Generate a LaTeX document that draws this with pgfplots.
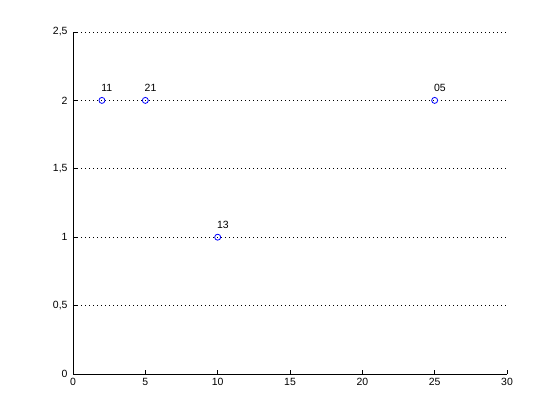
\documentclass[border=0pt]{standalone}
\usepackage{pgfplots}
\pgfplotsset{compat=1.18}
\usepackage{fontspec}
\setmainfont{Liberation Sans}
\begin{document}
\begin{tikzpicture}
\path[use as bounding box] (0,0) rectangle (560bp,420bp);
\begin{axis}[
  at={(73bp,46bp)}, anchor=south west,
  scale only axis, width=434bp, height=342bp,
  xmin=0, xmax=30, ymin=0, ymax=2.5,
  xtick={0,5,...,30}, ytick={0,0.5,...,2.5},
  axis lines*=left,
  axis line style={black, line width=0.8bp},
  tick style={black, line width=0.8bp},
  tick align=inside,
  major tick length=4bp,
  ymajorgrids,
  grid style={black, line width=0.9bp, dash pattern=on 0.9bp off 3.1bp},
  font=\fontsize{10.5}{12}\selectfont,
  tick label style={font=\fontsize{10.5}{12}\selectfont},
  /pgf/number format/assume math mode=true,
  /pgf/number format/use comma,
  yticklabel style={xshift=-2bp},
  xticklabel style={yshift=-1bp},
  clip=false,
]
\addplot[only marks, mark=o, mark size=3bp, blue, line width=0.8bp,
  nodes near coords, point meta=explicit symbolic,
  every node near coord/.style={anchor=base west, inner sep=0pt, xshift=-1bp, yshift=8.6bp, black, font=\fontsize{10.5}{12}\selectfont}]
  table[meta=lab] {
x y lab
2 2 11
5 2 21
10 1 13
25 2 05
};
\end{axis}
\end{tikzpicture}
\end{document}
